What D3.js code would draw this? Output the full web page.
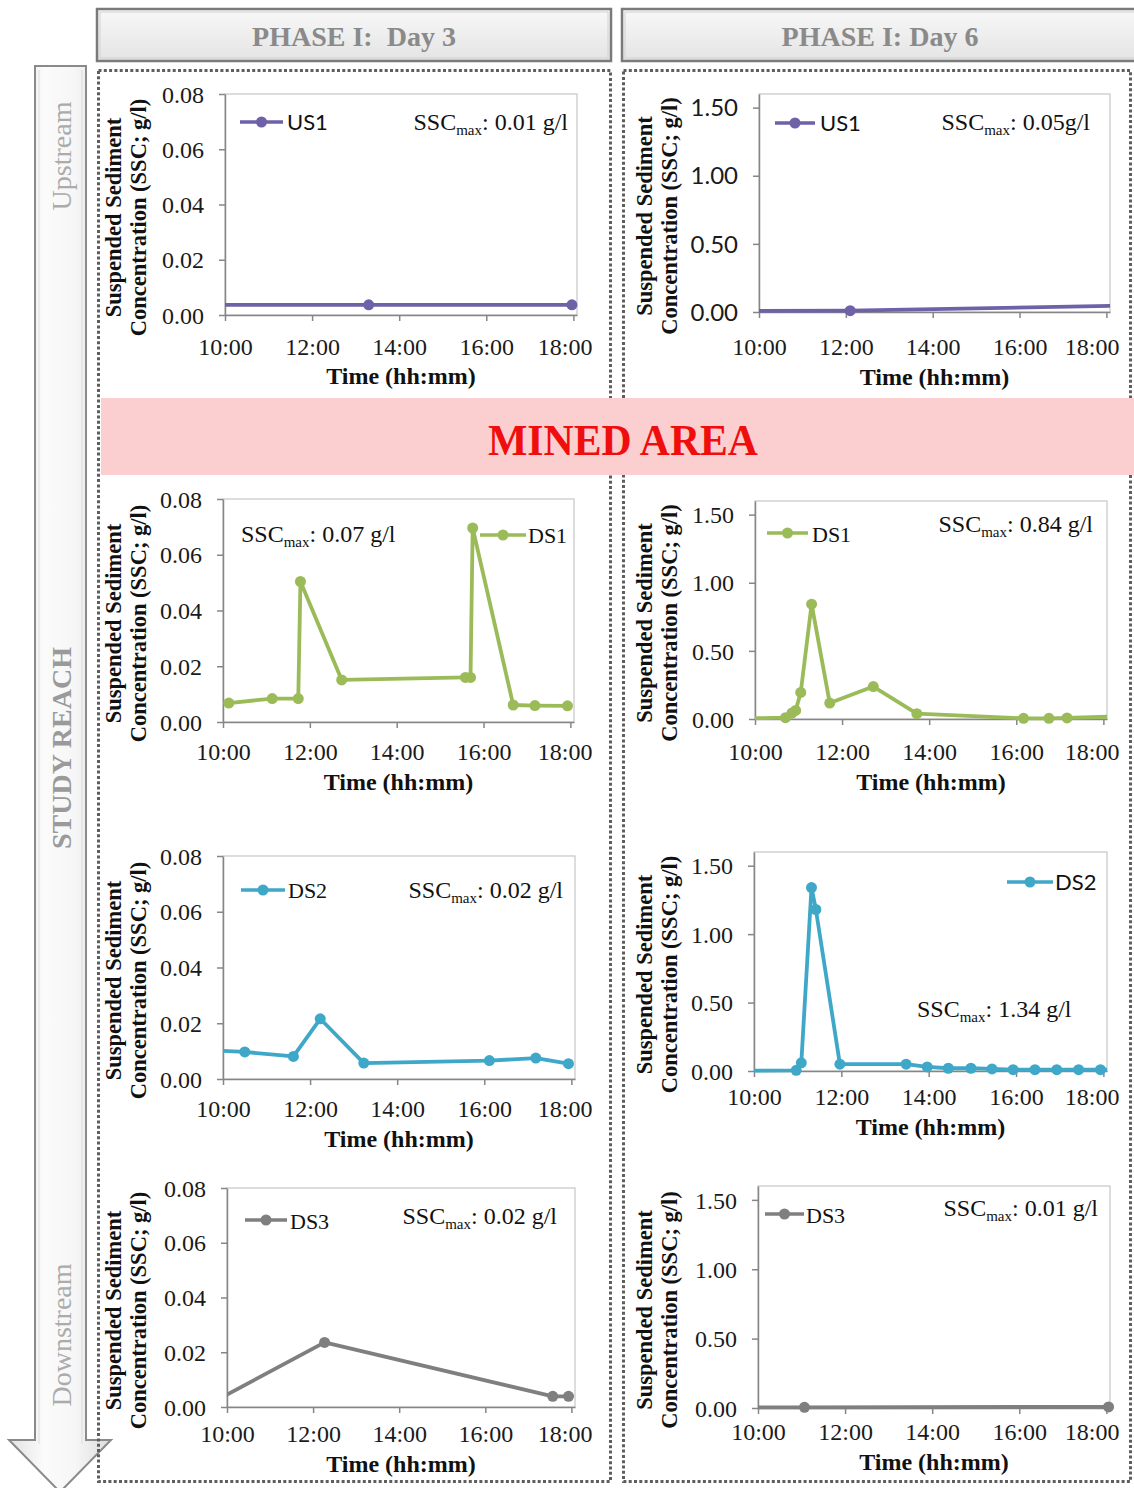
<!DOCTYPE html>
<html><head><meta charset="utf-8">
<script src="https://cdn.jsdelivr.net/npm/d3@7"></script>
<style>body{margin:0;background:#fff}svg{display:block}</style>
</head><body>
<svg id="chart" width="1134" height="1488"></svg>
<script>
// ---------------- DATA ----------------
const columnTitles = ["PHASE I:  Day 3", "PHASE I: Day 6"];
const reachLabels = ["Upstream", "STUDY REACH", "Downstream"];
const minedLabel = "MINED AREA";
const xTickLabels = ["10:00", "12:00", "14:00", "16:00", "18:00"];
const yTicksDay3 = [0, 0.02, 0.04, 0.06, 0.08];
const yTicksDay6 = [0, 0.5, 1.0, 1.5];
const xTitle = "Time (hh:mm)";
const yTitleLines = ["Suspended Sediment", "Concentration (SSC; g/l)"];

const seriesNames = ["US1", "US1", "DS1", "DS1", "DS2", "DS2", "DS3", "DS3"];
const sscMaxLabels = ["0.01 g/l", "0.05g/l", "0.07 g/l", "0.84 g/l", "0.02 g/l", "1.34 g/l", "0.02 g/l", "0.01 g/l"];

const us1Day3Times  = ["09:30", "13:18", "17:58"];
const us1Day3Values = [0.0037, 0.0037, 0.0037];

const us1Day6Times  = ["09:30", "12:06", "19:00"];
const us1Day6Values = [0.008, 0.01, 0.05];

const ds1Day3Times  = ["10:08", "11:08", "11:44", "11:47", "12:44", "15:35", "15:42", "15:45", "16:41", "17:11", "17:56"];
const ds1Day3Values = [0.0068, 0.0084, 0.0084, 0.0504, 0.0151, 0.016, 0.016, 0.0696, 0.0061, 0.0059, 0.0058];

const ds1Day6Times  = ["09:00", "10:42", "10:51", "10:56", "11:03", "11:18", "11:43", "12:43", "13:43", "16:10", "16:45", "17:10", "19:00"];
const ds1Day6Values = [0.0, 0.01, 0.044, 0.063, 0.195, 0.843, 0.117, 0.238, 0.039, 0.005, 0.005, 0.008, 0.025];

const ds2Day3Times  = ["09:30", "10:30", "11:37", "12:14", "13:14", "16:07", "17:11", "17:56"];
const ds2Day3Values = [0.0105, 0.0097, 0.0081, 0.0216, 0.0057, 0.0066, 0.0075, 0.0055];

const ds2Day6Times  = ["09:00", "10:58", "11:05", "11:19", "11:25", "11:58", "13:29", "13:58", "14:27", "14:58", "15:27", "15:56", "16:26", "16:56", "17:26", "17:56", "19:00"];
const ds2Day6Values = [0.0, 0.005, 0.06, 1.34, 1.18, 0.05, 0.05, 0.03, 0.02, 0.02, 0.015, 0.01, 0.01, 0.01, 0.01, 0.01, 0.01];

const ds3Day3Times  = ["09:45", "12:16", "17:34", "17:56"];
const ds3Day3Values = [0.0024, 0.0236, 0.0039, 0.0039];

const ds3Day6Times  = ["09:00", "11:04", "18:03"];
const ds3Day6Values = [0.003, 0.005, 0.008];

// ---------------- STYLE / LAYOUT ----------------
const SERIF = "'Liberation Serif','Times New Roman',serif";
const SANS = "Lato,'Open Sans',sans-serif";
const colors = { US1: "#6f61a8", DS1: "#9bbb59", DS2: "#3fa8c8", DS3: "#7f7f7f" };

const panelData = [
  [us1Day3Times, us1Day3Values], [us1Day6Times, us1Day6Values],
  [ds1Day3Times, ds1Day3Values], [ds1Day6Times, ds1Day6Values],
  [ds2Day3Times, ds2Day3Values], [ds2Day6Times, ds2Day6Values],
  [ds3Day3Times, ds3Day3Values], [ds3Day6Times, ds3Day6Values]
];

// plot box [L,T,R,B], label offsets, legend & ssc placement
const layout = [
  {box:[225,94,577,315], tickDy:40, titleDy:69, yFont:SERIF, legFont:SANS, leg:[240,283,122,287,130], ssc:[568,130,"end"]},
  {box:[759,94,1110,312], tickDy:43, titleDy:73, yFont:SANS, legFont:SANS, leg:[775,815,123,820,131], ssc:[1090,130,"end"]},
  {box:[223,499,574,722], tickDy:38, titleDy:68, yFont:SERIF, legFont:SERIF, leg:[480,526,535,528,543], ssc:[241,542,"start"]},
  {box:[755,501,1107,719], tickDy:41, titleDy:71, yFont:SERIF, legFont:SERIF, leg:[767,808,533,812,542], ssc:[1093,532,"end"]},
  {box:[223,856,575,1079], tickDy:38, titleDy:68, yFont:SERIF, legFont:SERIF, leg:[241,285,890,288,898], ssc:[563,898,"end"]},
  {box:[754,852,1107,1071], tickDy:34, titleDy:64, yFont:SERIF, legFont:SANS, leg:[1007,1053,882,1055,890], ssc:[917,1017,"start"]},
  {box:[227,1188,575,1407], tickDy:35, titleDy:65, yFont:SERIF, legFont:SERIF, leg:[245,287,1220,290,1229], ssc:[557,1224,"end"]},
  {box:[758,1186,1110,1408], tickDy:32, titleDy:62, yFont:SERIF, legFont:SERIF, leg:[765,804,1214,806,1223], ssc:[1098,1216,"end"]}
];

const svg = d3.select("#chart");
svg.append("rect").attr("width",1134).attr("height",1488).attr("fill","#fff");
const defs = svg.append("defs");

const gH = defs.append("linearGradient").attr("id","hdrGrad").attr("x1",0).attr("y1",0).attr("x2",0).attr("y2",1);
gH.append("stop").attr("offset","0%").attr("stop-color","#f8f8f8");
gH.append("stop").attr("offset","100%").attr("stop-color","#e4e4e4");
const gA = defs.append("linearGradient").attr("id","arrGrad").attr("x1",0).attr("y1",0).attr("x2",1).attr("y2",0);
gA.append("stop").attr("offset","0%").attr("stop-color","#e2e2e2");
gA.append("stop").attr("offset","35%").attr("stop-color","#fbfbfb");
gA.append("stop").attr("offset","65%").attr("stop-color","#f6f6f6");
gA.append("stop").attr("offset","100%").attr("stop-color","#dcdcdc");

// ---- headers ----
const headers = [{x:97, w:514, cx:354}, {x:622, w:520, cx:880}];
headers.forEach((h, i) => {
  svg.append("rect").attr("x",h.x).attr("y",9).attr("width",h.w).attr("height",52)
    .attr("fill","url(#hdrGrad)").attr("stroke","#7a7a7a").attr("stroke-width",2.5);
  svg.append("rect").attr("x",h.x+3).attr("y",12).attr("width",h.w-6).attr("height",46)
    .attr("fill","none").attr("stroke","#d2d2d2").attr("stroke-width",1);
  svg.append("text").attr("x",h.cx).attr("y",46).attr("text-anchor","middle")
    .style("white-space","pre")
    .attr("font-family",SERIF).attr("font-weight","bold").attr("font-size",28)
    .attr("fill","#8a8a8a").text(columnTitles[i]);
});

// ---- arrow ----
svg.append("path")
  .attr("d","M35,66 L86,66 L86,1440 L111,1440 L60,1492 L9,1440 L35,1440 Z")
  .attr("fill","url(#arrGrad)").attr("stroke","#8a8a8a").attr("stroke-width",2);
svg.append("path")
  .attr("d","M39,70 L39,1444 M82,70 L82,1444")
  .attr("stroke","#dddddd").attr("stroke-width",1).attr("fill","none");
const reachPos = [{y:156, bold:false, c:"#ababab"}, {y:748, bold:true, c:"#9a9a9a"}, {y:1335, bold:false, c:"#ababab"}];
reachLabels.forEach((t, i) => {
  svg.append("text").attr("transform",`translate(71,${reachPos[i].y}) rotate(-90)`)
    .attr("text-anchor","middle").attr("font-family",SERIF).attr("font-size",28)
    .attr("font-weight", reachPos[i].bold ? "bold" : "normal")
    .attr("fill",reachPos[i].c).text(t);
});

// ---- dotted boxes ----
[[98.5,70.5,512,1411],[623.5,70.5,507,1411]].forEach(b => {
  svg.append("rect").attr("x",b[0]).attr("y",b[1]).attr("width",b[2]).attr("height",b[3])
    .attr("fill","none").attr("stroke","#5e5e5e").attr("stroke-width",3)
    .attr("stroke-dasharray","3,2.3");
});

// ---- mined area band ----
svg.append("rect").attr("x",101).attr("y",398).attr("width",1033).attr("height",77).attr("fill","#fbcfcf");
svg.append("text").attr("x",623).attr("y",455).attr("text-anchor","middle")
  .attr("font-family",SERIF).attr("font-weight","bold").attr("font-size",45)
  .attr("textLength",270).attr("lengthAdjust","spacingAndGlyphs")
  .attr("fill","#f00d0d").text(minedLabel);

// ---- panels ----
const parseT = d3.timeParse("%H:%M");
const fmtT = d3.timeFormat("%H:%M");

layout.forEach((lay, i) => {
  const [L,T,R,B] = lay.box;
  const isDay6 = i % 2 === 1;
  const name = seriesNames[i];
  const color = colors[name];
  const [times, vals] = panelData[i];
  const pts = times.map((t, k) => ({t: parseT(t), v: vals[k]}));

  const x = d3.scaleTime().domain([parseT("10:00"), parseT("18:05")]).range([L, R]);
  const y = d3.scaleLinear().domain(isDay6 ? [0, 1.6] : [0, 0.08]).range([B, T]);

  const g = svg.append("g");
  g.append("rect").attr("x",L).attr("y",T).attr("width",R-L).attr("height",B-T)
    .attr("fill","#fff").attr("stroke","#c6c6c6").attr("stroke-width",1.2);

  // axes
  const yAx = g.append("g").attr("transform",`translate(${L},0)`)
    .call(d3.axisLeft(y).tickValues(isDay6 ? yTicksDay6 : yTicksDay3)
      .tickFormat(d3.format(".2f")).tickSize(6).tickSizeOuter(0).tickPadding(15));
  yAx.selectAll("path,line").attr("stroke","#868686").attr("stroke-width",1.5);
  yAx.selectAll("text").attr("font-family",lay.yFont).attr("font-size",24).attr("fill","#1a1a1a")
    .attr("dy","0.34em");

  const xAx = g.append("g").attr("transform",`translate(0,${B})`)
    .call(d3.axisBottom(x).tickValues(xTickLabels.map(parseT)).tickFormat(fmtT)
      .tickSize(6).tickSizeOuter(0));
  xAx.selectAll("path,line").attr("stroke","#868686").attr("stroke-width",1.5);
  xAx.selectAll("text").attr("font-family",SERIF).attr("font-size",24).attr("fill","#1a1a1a")
    .attr("y",lay.tickDy).attr("dy",0);
  // last label is pushed inside the chart area (as in the original)
  const edge = isDay6 ? 1119 : 592;
  const lastTick = xAx.selectAll(".tick").filter((d, k, n) => k === n.length - 1);
  const lastX = x(parseT(xTickLabels[xTickLabels.length - 1]));
  lastTick.select("text").attr("text-anchor","end").attr("x", edge - lastX);

  // titles
  g.append("text").attr("x",(L+R)/2).attr("y",B+lay.titleDy).attr("text-anchor","middle")
    .attr("font-family",SERIF).attr("font-weight","bold").attr("font-size",24).attr("fill","#111")
    .text(xTitle);
  const colX = isDay6 ? 652 : 121;
  const yc = (T+B)/2 + 13;
  yTitleLines.forEach((ln, k) => {
    g.append("text").attr("transform",`translate(${colX + k*25},${yc}) rotate(-90)`)
      .attr("text-anchor","middle").attr("font-family",SERIF).attr("font-weight","bold")
      .attr("font-size",22.5).attr("fill","#111").text(ln);
  });

  // clip
  const cid = "clip" + i;
  defs.append("clipPath").attr("id",cid).append("rect")
    .attr("x",L).attr("y",T-6).attr("width",R-L).attr("height",B-T+12);

  const line = d3.line().x(d => x(d.t)).y(d => y(d.v));
  g.append("path").datum(pts).attr("clip-path",`url(#${cid})`)
    .attr("d",line).attr("fill","none").attr("stroke",color).attr("stroke-width",3.8)
    .attr("stroke-linejoin","round");
  const dom = x.domain();
  g.selectAll("circle.m").data(pts.filter(d => d.t >= dom[0] && d.t <= dom[1]))
    .join("circle").attr("class","m").attr("cx",d => x(d.t)).attr("cy",d => y(d.v))
    .attr("r",5.5).attr("fill",color);

  // legend
  const [lx1,lx2,ly,tx,ty] = lay.leg;
  g.append("line").attr("x1",lx1).attr("x2",lx2).attr("y1",ly).attr("y2",ly)
    .attr("stroke",color).attr("stroke-width",3.6);
  g.append("circle").attr("cx",(lx1+lx2)/2).attr("cy",ly).attr("r",5.5).attr("fill",color);
  g.append("text").attr("x",tx).attr("y",ty).attr("font-family",lay.legFont).attr("font-size",22)
    .attr("fill","#111").text(name);

  // SSC max
  const [sx,sy,sa] = lay.ssc;
  const st = g.append("text").attr("x",sx).attr("y",sy).attr("text-anchor",sa)
    .attr("font-family",SERIF).attr("font-size",24).attr("fill","#111");
  st.append("tspan").text("SSC");
  st.append("tspan").attr("font-size",15).attr("dy",5).text("max");
  st.append("tspan").attr("dy",-5).text(": " + sscMaxLabels[i]);
});
</script>
</body></html>
